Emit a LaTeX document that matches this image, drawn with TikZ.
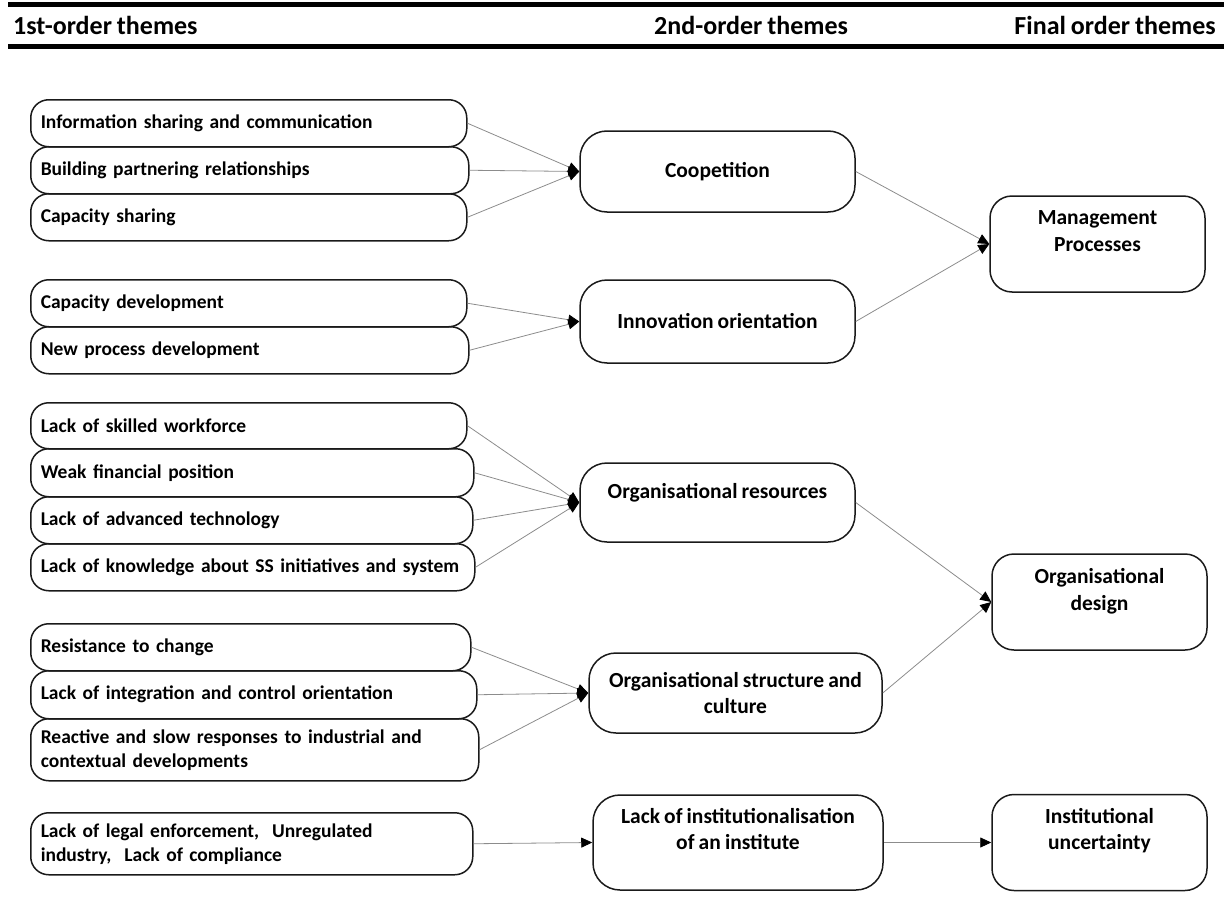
\documentclass[tikz,border=0pt]{standalone}
\usepackage{fontspec}
\setmainfont[WordSpace=0.85]{Carlito}
\usepackage{tikz}
\usetikzlibrary{arrows.meta, positioning}
\definecolor{Edge}{HTML}{1A1A1A}
\definecolor{Link}{HTML}{8C8C8C}
\newcommand{\hdfont}{\fontsize{26}{30}\selectfont\bfseries}
\newcommand{\fofont}{\fontsize{19.5}{24}\selectfont\bfseries}
\newcommand{\sofont}{\fontsize{21.5}{26.5}\selectfont\bfseries}
\tikzset{
  fobox/.style={draw=Edge, line width=1.5pt, rounded corners=18pt, anchor=north west,
    align=left, inner xsep=10pt, inner ysep=0pt, font=\fofont},
  sobox/.style={draw=Edge, line width=1.5pt, rounded corners=27pt, align=center,
    inner sep=0pt, font=\sofont},
  finbox/.style={draw=Edge, line width=1.5pt, rounded corners=22pt, align=center,
    inner sep=0pt, font=\sofont, minimum width=215pt, minimum height=96pt},
  link/.style={draw=Link, line width=0.8pt, -{Triangle[length=11pt, width=10pt, color=black]}}
}
\begin{document}
\begin{tikzpicture}[x=1pt, y=-1pt]
  \useasboundingbox (0,0) rectangle (1224,907);
  % header
  \draw[line width=5pt] (8,5) -- (1224,5);
  \draw[line width=5pt] (8,47) -- (1224,47);
  \node[anchor=base west, inner sep=0pt, font=\hdfont] (h1) at (13,35) {1st-order themes};
  \node[anchor=base west, inner sep=0pt, font=\hdfont] (h2) at (654,35) {2nd-order themes};
  \node[anchor=base east, inner sep=0pt, font=\hdfont] (h3) at (1216,35) {Final order themes};

  % 1st-order themes
  \node[fobox, text width=416pt, minimum height=47pt] (info) at (30,99) {Information sharing and communication};
  \node[fobox, text width=418pt, minimum height=47pt] (build) at (30,146) {Building partnering relationships};
  \node[fobox, text width=416pt, minimum height=47pt] (capshare) at (30,193) {Capacity sharing};
  \node[fobox, text width=416pt, minimum height=47pt] (capdev) at (30,279) {Capacity development};
  \node[fobox, text width=418pt, minimum height=47pt] (newproc) at (30,326) {New process development};
  \node[fobox, text width=416pt, minimum height=46pt] (skill) at (30,402) {Lack of skilled workforce};
  \node[fobox, text width=423pt, minimum height=48pt] (finance) at (30,448) {Weak financial position};
  \node[fobox, text width=422pt, minimum height=47pt] (tech) at (30,496) {Lack of advanced technology};
  \node[fobox, text width=424pt, minimum height=47pt] (know) at (30,543) {Lack of knowledge about SS initiatives and system};
  \node[fobox, text width=420pt, minimum height=47pt] (resist) at (30,623) {Resistance to change};
  \node[fobox, text width=426pt, minimum height=48pt] (integ) at (30,670) {Lack of integration and control orientation};
  \node[fobox, text width=428pt, minimum height=62pt] (react) at (30,718) {Reactive and slow responses to industrial and\\contextual developments};
  \node[fobox, text width=422pt, minimum height=62pt] (legal) at (30,812) {Lack of legal enforcement,~ Unregulated\\industry,~ Lack of compliance};

  % 2nd-order themes
  \node[sobox, minimum width=275pt, minimum height=81pt] (coop) at (717.5,171.5) {Coopetition};
  \node[sobox, minimum width=275pt, minimum height=83pt] (innov) at (717.5,321.5) {Innovation orientation};
  \node[sobox, minimum width=275pt, minimum height=79pt, text depth=23pt] (orgres) at (717.5,502.5) {Organisational resources};
  \node[sobox, minimum width=293pt, minimum height=80pt] (orgstr) at (735.5,693) {Organisational structure and\\culture};
  \node[sobox, minimum width=290pt, minimum height=95pt, text depth=27pt] (inst) at (738,842.5) {Lack of institutionalisation\\of an institute};

  % final order themes
  \node[finbox, text depth=26pt] (mgmt) at (1097.5,244) {Management\\Processes};
  \node[finbox, text depth=25pt] (design) at (1099.5,602) {Organisational\\design};
  \node[finbox, text depth=27pt] (uncert) at (1099.5,842.5) {Institutional\\uncertainty};

  % links
  \foreach \src in {info, build, capshare} \draw[link] (\src.east) -- (coop.west);
  \foreach \src in {capdev, newproc} \draw[link] (\src.east) -- (innov.west);
  \foreach \src in {skill, finance, tech, know} \draw[link] (\src.east) -- (orgres.west);
  \foreach \src in {resist, integ, react} \draw[link] (\src.east) -- (orgstr.west);
  \draw[link] (legal.east) -- (inst.west);
  \draw[link] (coop.east) -- (mgmt.west);
  \draw[link] (innov.east) -- (mgmt.west);
  \draw[link] (orgres.east) -- (design.west);
  \draw[link] (orgstr.east) -- (design.west);
  \draw[link] (inst.east) -- (uncert.west);
\end{tikzpicture}
\end{document}
